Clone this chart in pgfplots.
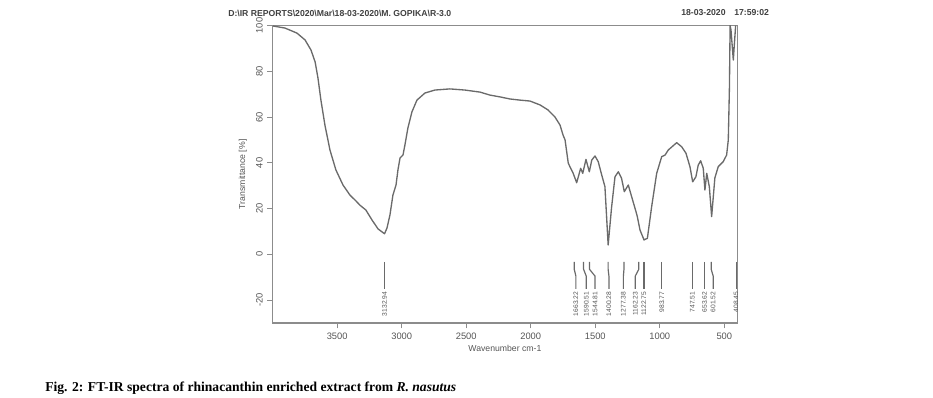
\documentclass[border=0pt]{standalone}
\usepackage{pgfplots}
\pgfplotsset{compat=1.18}
\usepackage{fontspec}
\setmainfont{Liberation Sans}
\newfontfamily\capfont{Liberation Serif}
\definecolor{spec}{HTML}{6A6A6A}
\definecolor{axc}{HTML}{8C8C8C}
\definecolor{txt}{HTML}{555555}
\newcommand{\pk}[3]{%
  \addplot[spec, line width=0.9pt] coordinates {(#1,-3.3) (#1,-6.5) (#2,-9.5) (#2,-15.1)};
  \node[rotate=90, anchor=east, inner sep=0pt, font=\fontsize{5}{6}\selectfont, text=txt] at (axis cs:#2,-16.3) {#3};
}
\begin{document}
\begin{tikzpicture}
\path[use as bounding box] (0,0) rectangle (699.75pt,298.5pt);
\begin{axis}[
  at={(204.5pt,56.25pt)}, anchor=south west,
  scale only axis, width=348.4pt, height=223.1pt,
  x dir=reverse, xmin=400, xmax=4000, ymin=-30, ymax=100,
  xtick={500,1000,...,3500}, ytick={-20,0,...,100},
  xtick pos=left, ytick pos=left,
  axis line style={axc, line width=0.9pt},
  tick style={axc, line width=0.8pt},
  tick align=outside, major tick length=4pt,
  /pgf/number format/assume math mode=true,
  /pgf/number format/1000 sep={},
  scaled x ticks=false,
  xticklabel style={font=\fontsize{7}{8}\selectfont, text=txt},
  yticklabel style={font=\fontsize{7}{8}\selectfont, text=txt, rotate=90, anchor=south},
  xlabel={Wavenumber cm-1}, ylabel={Transmittance [\%]},
  xlabel style={font=\fontsize{6.5}{7}\selectfont, text=txt, at={(axis description cs:0.5,-0.084)}, anchor=center},
  ylabel style={font=\fontsize{6.5}{7}\selectfont, text=txt, at={(axis description cs:-0.0639,0.5)}, anchor=center},
  clip=true,
]
\addplot[spec, line width=1.0pt, line join=round] coordinates {
(3998,99.8) (3905,98.9) (3812,96.7) (3749,93.7) (3703,89.3) (3671,84.1) (3649,77.1)
(3626,67.4) (3595,56.5) (3556,45.6) (3510,36.9) (3455,30.3) (3401,25.9) (3354,23.3)
(3324,21.5) (3278,19.4) (3230,15.0) (3183,11.1) (3133,9.0) (3114,11.5) (3091,17.2)
(3068,25.9) (3044,30.3) (3029,36.9) (3013,42.1) (2990,43.4) (2975,47.8) (2952,55.2)
(2921,62.2) (2882,67.4) (2820,70.5) (2743,71.8) (2627,72.3) (2510,71.8) (2393,70.9)
(2316,69.6) (2238,68.8) (2161,67.9) (2083,67.4) (2006,67.0) (1928,65.3) (1866,63.1)
(1812,60.0) (1773,56.5) (1750,52.2) (1734,50.0) (1709,39.8) (1671,35.4) (1644,31.3)
(1613,37.6) (1597,35.4) (1572,41.5) (1546,36.1) (1527,41.2) (1502,43.0) (1477,40.5)
(1450,34.7) (1425,29.6) (1400,4.1) (1373,20.8) (1347,33.9) (1321,36.1) (1296,33.2)
(1275,27.4) (1244,30.3) (1218,25.2) (1184,18.6) (1174,16.5) (1153,10.6) (1122,6.3)
(1096,7.0) (1063,20.8) (1024,35.4) (985,42.7) (959,43.4) (934,45.6) (869,48.8)
(830,47.0) (797,44.2) (766,38.3) (745,31.7) (720,33.9) (702,39.0) (683,40.9)
(663,37.6) (650,28.1) (636,35.4) (616,29.6) (598,16.5) (573,33.4) (547,38.3)
(508,40.5) (482,43.4) (469,50.0) (460,73.3) (455,100) (448,98) (430,84.9)
(425,89.3) (412,100)
};
\pk{3132.94}{3132.94}{3132.94}
\pk{1663.22}{1650}{1663.22}
\pk{1590.51}{1570}{1590.51}
\pk{1544.81}{1502}{1544.81}
\pk{1400.28}{1394}{1400.28}
\pk{1277.38}{1282}{1277.38}
\pk{1162.23}{1190}{1162.23}
\pk{1122.75}{1122.75}{1122.75}
\pk{983.77}{983.77}{983.77}
\pk{747.51}{747.51}{747.51}
\pk{653.62}{653.62}{653.62}
\pk{601.52}{586}{601.52}
\pk{408.45}{408.45}{408.45}
\end{axis}
\node[anchor=west, inner sep=0pt, font=\bfseries\fontsize{6.5}{7}\selectfont, text=black!75] at (171pt,288.75pt)
  {D:\textbackslash IR REPORTS\textbackslash 2020\textbackslash Mar\textbackslash 18-03-2020\textbackslash M. GOPIKA\textbackslash R-3.0};
\node[anchor=west, inner sep=0pt, font=\bfseries\fontsize{6.5}{7}\selectfont, text=black!75] at (510.75pt,288.75pt)
  {18-03-2020\quad 17:59:02};
\node[anchor=west, inner sep=0pt, font=\capfont\bfseries\fontsize{10.2}{12}\selectfont] at (33.75pt,7.5pt)
  {Fig. 2: FT-IR spectra of rhinacanthin enriched extract from \textit{R. nasutus}};
\end{tikzpicture}
\end{document}
